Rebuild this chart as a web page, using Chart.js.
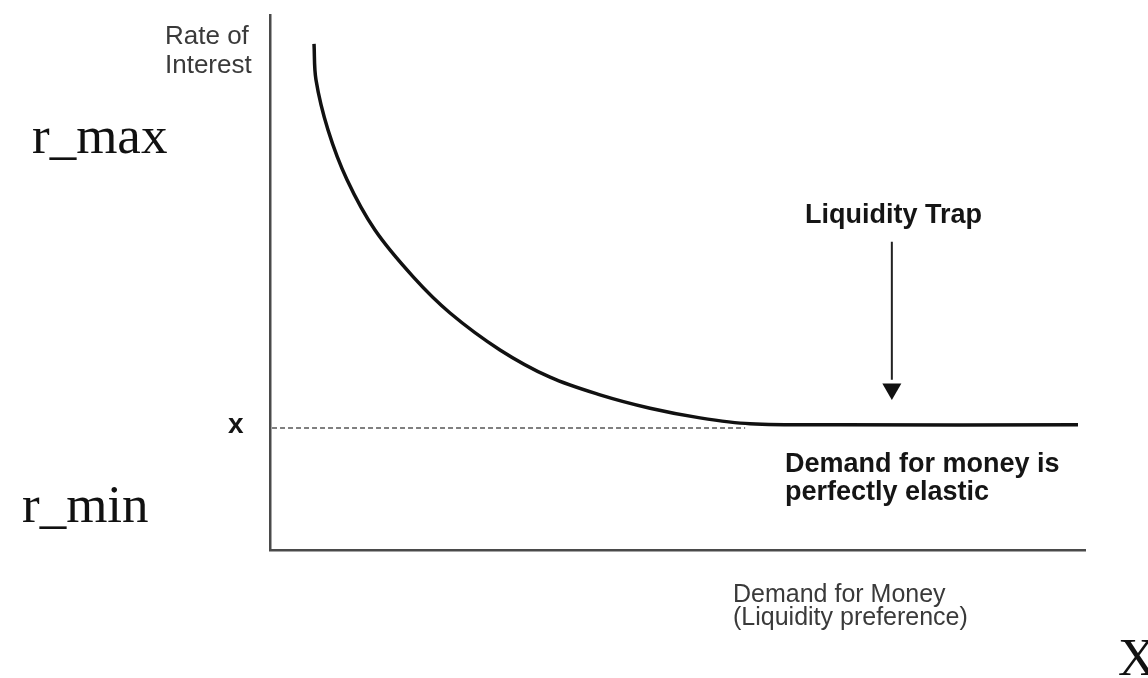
<!DOCTYPE html>
<html>
<head>
<meta charset="utf-8">
<script src="https://cdn.jsdelivr.net/npm/chart.js@4/dist/chart.umd.min.js"></script>
<style>
  html, body { margin: 0; padding: 0; background: #fff; }
  #wrap { width: 1148px; height: 678px; }
</style>
</head>
<body>
<div id="wrap"><canvas id="grafico"></canvas></div>
<script>
// curva de preferencia pela liquidez (procura de moeda)
const curvaX = [5.4, 5.64, 7.12, 9.45, 12.88, 17.6, 22.09, 28.22, 34.36, 40.49, 46.63, 52.76, 58.9, 70.0, 99.14];
const curvaY = [94.6, 87.9, 78.5, 69.2, 59.8, 51.0, 44.3, 37.4, 32.3, 29.0, 26.5, 24.7, 23.6, 23.4, 23.4];

// linha tracejada ao nivel "x"
const tracejadoX = [0.25, 58.3];
const tracejadoY = [22.8, 22.8];

// seta da armadilha de liquidez
const setaX = [76.3, 76.3];
const setaY = [57.6, 31.8];
const pontaSeta = { x: 76.3, y: 30.1 };

// textos
const tituloEixoY = ["Rate of", "Interest"];
const tituloEixoX = ["Demand for Money", "(Liquidity preference)"];
const textoArmadilha = "Liquidity Trap";
const textoElastico = ["Demand for money is", "perfectly elastic"];
const rotuloX = "x";
const rotuloMax = "r_max";
const rotuloMin = "r_min";
const rotuloEixo = "X";

function pares(xs, ys) {
  return xs.map((x, i) => ({ x: x, y: ys[i] }));
}

const fundoBranco = {
  id: "fundoBranco",
  beforeDraw(chart) {
    const ctx = chart.ctx;
    ctx.save();
    ctx.fillStyle = "#fff";
    ctx.fillRect(0, 0, chart.width, chart.height);
    ctx.restore();
  }
};

const textos = {
  id: "textos",
  afterDraw(chart) {
    const ctx = chart.ctx;
    ctx.save();
    ctx.textBaseline = "alphabetic";
    ctx.textAlign = "left";

    ctx.fillStyle = "#3a3a3a";
    ctx.font = "26px 'Liberation Sans', Arial, sans-serif";
    ctx.fillText(tituloEixoY[0], 165, 44);
    ctx.fillText(tituloEixoY[1], 165, 73);

    ctx.font = "25px 'Liberation Sans', Arial, sans-serif";
    ctx.fillText(tituloEixoX[0], 733, 602);
    ctx.fillText(tituloEixoX[1], 733, 625);

    ctx.fillStyle = "#151515";
    ctx.font = "bold 27px 'Liberation Sans', Arial, sans-serif";
    ctx.fillText(textoArmadilha, 805, 223);
    ctx.fillText(textoElastico[0], 785, 472);
    ctx.fillText(textoElastico[1], 785, 500);

    ctx.font = "bold 28px 'Liberation Sans', Arial, sans-serif";
    ctx.fillText(rotuloX, 228, 433);

    ctx.fillStyle = "#111";
    ctx.font = "53px 'Liberation Serif', 'Times New Roman', serif";
    ctx.fillText(rotuloMax, 32, 153);
    ctx.fillText(rotuloMin, 22, 522);
    ctx.fillText(rotuloEixo, 1118, 675);
    ctx.restore();
  }
};

document.addEventListener("DOMContentLoaded", function () {
  const ctx = document.getElementById("grafico").getContext("2d");

  new Chart(ctx, {
    type: "scatter",
    data: {
      datasets: [
        {
          label: "Procura de moeda",
          data: pares(curvaX, curvaY),
          showLine: true,
          borderColor: "#111",
          borderWidth: 3.5,
          pointRadius: 0,
          tension: 0.35,
          fill: false
        },
        {
          label: "Nivel x",
          data: pares(tracejadoX, tracejadoY),
          showLine: true,
          borderColor: "#555",
          borderWidth: 1.6,
          borderDash: [5, 3],
          pointRadius: 0,
          fill: false
        },
        {
          label: "Seta",
          data: pares(setaX, setaY),
          showLine: true,
          borderColor: "#222",
          borderWidth: 2,
          pointRadius: 0,
          fill: false
        },
        {
          label: "Ponta",
          data: [pontaSeta],
          showLine: false,
          pointStyle: "triangle",
          rotation: 180,
          pointRadius: 11,
          backgroundColor: "#111",
          borderColor: "#111",
          borderWidth: 0
        }
      ]
    },
    options: {
      responsive: true,
      maintainAspectRatio: false,
      animation: false,
      events: [],
      layout: {
        padding: { left: 270, right: 63, top: 15, bottom: 128 }
      },
      plugins: {
        legend: { display: false },
        tooltip: { enabled: false }
      },
      scales: {
        x: {
          type: "linear",
          min: 0,
          max: 100,
          ticks: { display: false },
          grid: { display: false },
          border: { display: true, color: "#4a4a4a", width: 2.5 },
          afterFit: s => { s.height = 0; }
        },
        y: {
          type: "linear",
          min: 0,
          max: 100,
          ticks: { display: false },
          grid: { display: false },
          border: { display: true, color: "#4a4a4a", width: 2.5 },
          afterFit: s => { s.width = 0; }
        }
      }
    },
    plugins: [fundoBranco, textos]
  });
});
</script>
</body>
</html>
